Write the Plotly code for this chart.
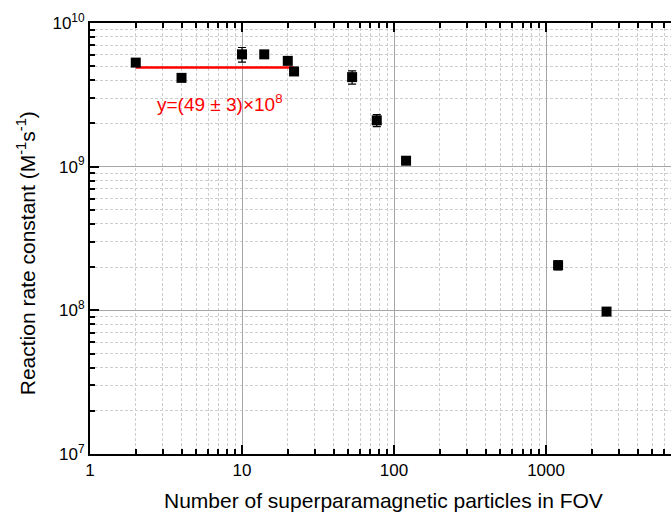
import plotly.graph_objects as go

# ---- data ----
particles = [2, 4, 10, 14, 20, 22, 53, 77, 120, 1200, 2500]
rate_const = [5.3e9, 4.15e9, 6.05e9, 6.05e9, 5.45e9, 4.6e9, 4.2e9, 2.1e9, 1.1e9, 2.06e8, 9.8e7]
rate_err = [0.2e9, 0.15e9, 0.7e9, 0.3e9, 0.3e9, 0.25e9, 0.45e9, 0.2e9, 0.05e9, 0.15e8, 0.03e8]

fit_x = [2, 22]
fit_y = [4.9e9, 4.9e9]
fit_label = "y=(49 \u00b1 3)\u00d710<sup>8</sup>"

x_tickvals = [1, 10, 100, 1000]
x_ticktext = ["1", "10", "100", "1000"]
y_tickvals = [1e7, 1e8, 1e9, 1e10]
y_ticktext = ["10<sup>7</sup>", "10<sup>8</sup>", "10<sup>9</sup>", "10<sup>10</sup>"]

x_minor = [m * 10 ** d for d in range(0, 4) for m in range(2, 10)]
y_minor = [m * 10 ** d for d in range(7, 10) for m in range(2, 10)]

FONT = "Liberation Sans, Arial, sans-serif"

fig = go.Figure()
fig.add_trace(go.Scatter(
    x=fit_x, y=fit_y, mode="lines",
    line=dict(color="#ff0000", width=2.5), showlegend=False,
))
fig.add_trace(go.Scatter(
    x=particles, y=rate_const, mode="markers",
    marker=dict(symbol="square", size=10, color="black"),
    error_y=dict(type="data", array=rate_err, visible=True, color="black", thickness=1.2, width=4),
    showlegend=False,
))

axis_common = dict(
    type="log", ticks="inside", ticklen=9, tickwidth=2, tickcolor="black",
    showline=True, linewidth=2, linecolor="black",
    showgrid=True, gridcolor="#a6a6a6", gridwidth=1,
    tickfont=dict(family=FONT, size=17, color="black"),
    zeroline=False,
)

minor_common = dict(ticks="inside", ticklen=5, tickwidth=1.5, tickcolor="black",
                    showgrid=True, gridcolor="#cdcdcd", griddash="3px,2px", gridwidth=1)

fig.update_xaxes(
    **axis_common, range=[0, 3.822], mirror="ticks",
    tickvals=x_tickvals, ticktext=x_ticktext,
    minor=dict(tickvals=x_minor, **minor_common),
)
fig.update_yaxes(
    **axis_common, range=[7, 10], mirror=False,
    tickvals=y_tickvals, ticktext=y_ticktext,
    minor=dict(tickvals=y_minor, **minor_common),
)

fig.add_annotation(x=0.855, y=9.443, xref="x", yref="y", text=fit_label, showarrow=False,
                   font=dict(family=FONT, size=19, color="#ff0000"))
fig.add_annotation(x=0.505, y=-0.107, xref="paper", yref="paper",
                   text="Number of superparamagnetic particles in FOV", showarrow=False,
                   font=dict(family=FONT, size=21, color="black"), xanchor="center", yanchor="middle")
fig.add_annotation(x=-0.110, y=0.466, xref="paper", yref="paper", textangle=-90,
                   text="Reaction rate constant (M<sup>-1</sup>s<sup>-1</sup>)", showarrow=False,
                   font=dict(family=FONT, size=21, color="black"), xanchor="center", yanchor="middle")

fig.update_layout(
    width=671, height=514,
    margin=dict(l=90, r=0, t=23, b=60),
    paper_bgcolor="white", plot_bgcolor="white",
    font=dict(family=FONT, color="black"),
)

fig.write_html("out.html")
